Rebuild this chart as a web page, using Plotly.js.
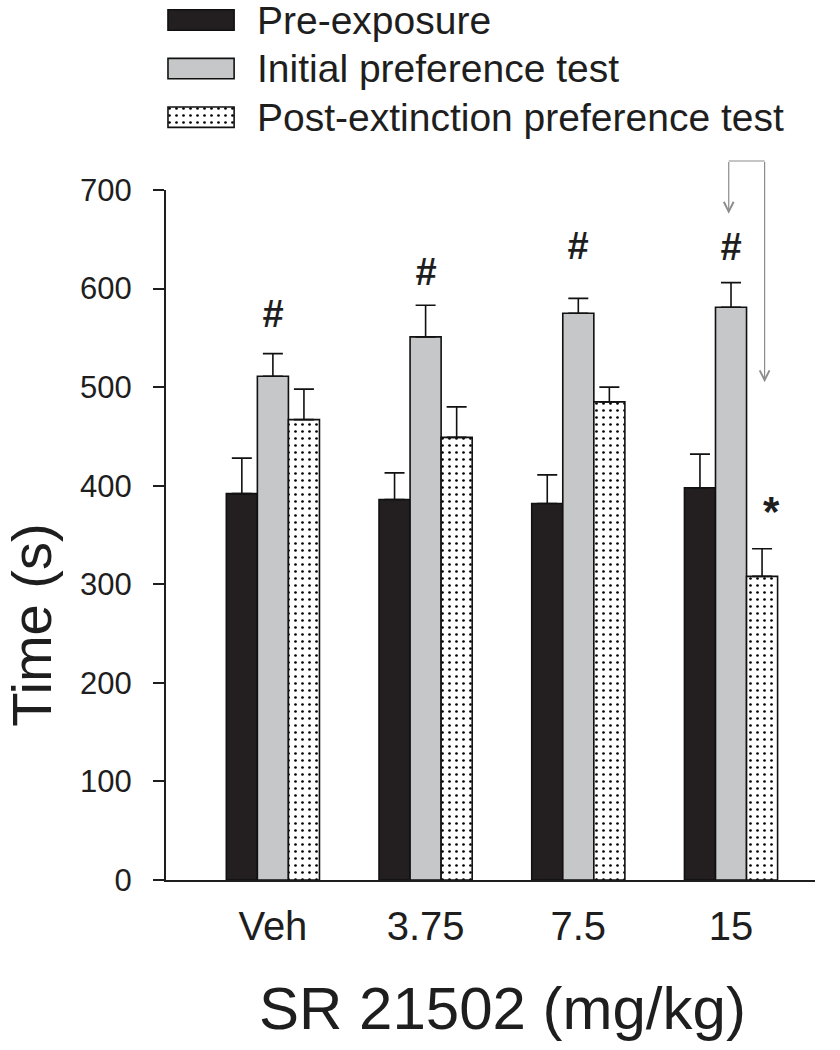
<!DOCTYPE html>
<html>
<head>
<meta charset="utf-8">
<script src="https://cdn.plot.ly/plotly-3.0.1.min.js"></script>
<style>html,body{margin:0;padding:0;background:#fff;}</style>
</head>
<body>
<div id="chart" style="width:840px;height:1050px;"></div>
<script>
// ---- data ----
const categories = ['Veh', '3.75', '7.5', '15'];
const seriesNames = ['Pre-exposure', 'Initial preference test', 'Post-extinction preference test'];
const preExposure = [392, 386, 382, 398];
const preExposureErr = [36, 27, 29, 34];
const initialTest = [511, 551, 575, 581];
const initialTestErr = [23, 32, 15, 25];
const postExtinction = [467, 449, 485, 308];
const postExtinctionErr = [31, 31, 15, 28];
const yTickVals = [0, 100, 200, 300, 400, 500, 600, 700];
const xTitleText = 'SR 21502 (mg/kg)';
const yTitleText = 'Time (s)';
const hashMark = '#';
const starMark = '*';

// ---- styles ----
const FONT = 'Liberation Sans, Arial, Helvetica, sans-serif';
const INK = '#1e1e1e';
const fills = ['#231f20', '#c6c7c9', '#ffffff'];
const patterns = ['', '', '.'];
const edge = {color: '#111', width: 1.6};

function markerFor(i) {
  return {
    color: fills[i], line: edge,
    pattern: {shape: patterns[i], fgcolor: '#000', bgcolor: '#fff', size: 7, solidity: 0.12, fillmode: 'replace'}
  };
}

function barTrace(name, y, err, i) {
  return {
    type: 'bar', name: name, x: categories, y: y,
    marker: markerFor(i),
    error_y: {type: 'data', symmetric: false, array: err, arrayminus: err.map(() => 0),
              color: '#111', thickness: 1.6, width: 10},
    showlegend: false, hoverinfo: 'skip', xaxis: 'x', yaxis: 'y'
  };
}

function swatchTrace(i) {
  return {
    type: 'bar', orientation: 'h', y: [seriesNames[i]], x: [1], base: 0, width: 0.42,
    marker: markerFor(i), xaxis: 'x2', yaxis: 'y2', showlegend: false, hoverinfo: 'skip'
  };
}

const traces = [
  barTrace(seriesNames[0], preExposure, preExposureErr, 0),
  barTrace(seriesNames[1], initialTest, initialTestErr, 1),
  barTrace(seriesNames[2], postExtinction, postExtinctionErr, 2),
  swatchTrace(0), swatchTrace(1), swatchTrace(2)
];

// significance marks (placed above bars)
const hashGap = [40, 34, 53, 36];
const annotations = [];
categories.forEach((c, i) => {
  annotations.push({
    x: i, y: initialTest[i] + initialTestErr[i] + hashGap[i], xref: 'x', yref: 'y',
    text: '<b><i>' + hashMark + '</i></b>', showarrow: false, xanchor: 'center', yanchor: 'middle',
    font: {family: FONT, size: 38, color: INK}
  });
});
annotations.push({
  x: 3.265, y: postExtinction[3] + postExtinctionErr[3] + 38, xref: 'x', yref: 'y',
  text: '<b>' + starMark + '</b>', showarrow: false, xanchor: 'center', yanchor: 'middle',
  font: {family: FONT, size: 42, color: INK}
});

// comparison arrows (15 mg/kg: initial vs post-extinction)
const arrowStyle = {arrowcolor: '#8c8c8c', arrowwidth: 1.2, arrowsize: 1.6, text: '', showarrow: true,
  xref: 'x', yref: 'y', axref: 'x', ayref: 'y', standoff: 0, startstandoff: 0};
annotations.push(Object.assign({}, arrowStyle, {x: 2.985, y: 676, ax: 2.985, ay: 730, arrowhead: 5}));
annotations.push(Object.assign({}, arrowStyle, {x: 3.22, y: 505, ax: 3.22, ay: 730, arrowhead: 5}));

const shapes = [{
  type: 'line', xref: 'x', yref: 'paper', x0: 2.985, x1: 3.22,
  y0: (880 - 161) / 880, y1: (880 - 161) / 880,
  line: {color: '#8c8c8c', width: 1.2}
}];

// legend labels
seriesNames.forEach((n) => {
  annotations.push({
    x: 0.137, y: n, xref: 'paper', yref: 'y2', text: n, showarrow: false,
    xanchor: 'left', yanchor: 'middle', font: {family: FONT, size: 39, color: INK}
  });
});

// axis titles
annotations.push({
  x: -0.207, y: 0.2898, xref: 'paper', yref: 'paper', text: yTitleText, textangle: -90,
  showarrow: false, xanchor: 'center', yanchor: 'middle', font: {family: FONT, size: 56, color: INK}
});
annotations.push({
  x: 0.519, y: -0.1455, xref: 'paper', yref: 'paper', text: xTitleText,
  showarrow: false, xanchor: 'center', yanchor: 'middle', font: {family: FONT, size: 60, color: INK}
});

const layout = {
  width: 840, height: 1050,
  margin: {l: 166, r: 25, t: 0, b: 170},
  paper_bgcolor: '#fff', plot_bgcolor: '#fff',
  font: {family: FONT, color: INK},
  barmode: 'group', bargap: 0.39, bargroupgap: 0,
  showlegend: false,
  xaxis: {
    type: 'category', range: [-0.7, 3.55], domain: [0, 1], anchor: 'y',
    showline: true, linecolor: INK, linewidth: 2, ticks: '', showgrid: false, zeroline: false,
    tickfont: {family: FONT, size: 40, color: INK}, ticklabelstandoff: 10
  },
  yaxis: {
    range: [0, 700], domain: [0, 0.7841], anchor: 'x',
    tickmode: 'array', tickvals: yTickVals, ticks: 'outside', ticklen: 11, tickwidth: 2, tickcolor: INK,
    showline: true, linecolor: INK, linewidth: 2, showgrid: false, zeroline: false,
    tickfont: {family: FONT, size: 31, color: INK}, ticklabelstandoff: 15
  },
  xaxis2: {domain: [0, 0.108], range: [-0.03, 1.03], anchor: 'y2', visible: false, fixedrange: true},
  yaxis2: {domain: [0.835, 1], type: 'category', categoryorder: 'array', categoryarray: seriesNames,
           range: [2.577, -0.412], anchor: 'x2', visible: false, fixedrange: true},
  annotations: annotations,
  shapes: shapes
};

Plotly.newPlot('chart', traces, layout, {staticPlot: true, displayModeBar: false});
</script>
</body>
</html>
